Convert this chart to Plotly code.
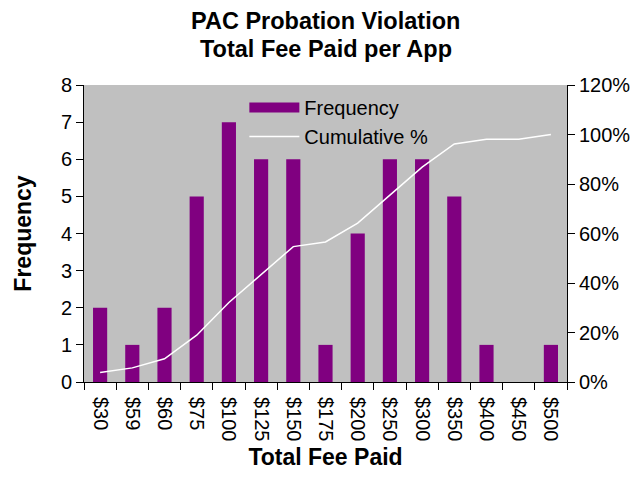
import plotly.graph_objects as go

categories = ["$30", "$59", "$60", "$75", "$100", "$125", "$150", "$175", "$200",
              "$250", "$300", "$350", "$400", "$450", "$500"]
frequency = [2, 1, 2, 5, 7, 6, 6, 1, 4, 6, 6, 5, 1, 0, 1]
cumulative_pct = [3.8, 5.7, 9.4, 18.9, 32.1, 43.4, 54.7, 56.6, 64.2, 75.5, 86.8, 96.2, 98.1, 98.1, 100.0]
left_ticks = [0, 1, 2, 3, 4, 5, 6, 7, 8]
right_ticks = [0, 20, 40, 60, 80, 100, 120]
right_tick_text = ["0%", "20%", "40%", "60%", "80%", "100%", "120%"]
title_lines = ["PAC Probation Violation", "Total Fee Paid per App"]

FONT = "Liberation Sans, Arial, sans-serif"
PURPLE = "#800080"

fig = go.Figure()
fig.add_trace(go.Bar(x=categories, y=frequency, name="Frequency", showlegend=False,
                     marker=dict(color=PURPLE, line=dict(width=0))))
# legend proxy giving the wide rectangular swatch of the original legend
fig.add_trace(go.Scatter(x=[None], y=[None], name="Frequency", mode="lines",
                         line=dict(color=PURPLE, width=12), hoverinfo="skip"))
fig.add_trace(go.Scatter(x=categories, y=cumulative_pct, name="Cumulative %", yaxis="y2",
                         mode="lines", line=dict(color="white", width=1.5)))

fig.update_layout(
    width=642, height=478,
    margin=dict(l=84, r=73, t=85, b=95),
    paper_bgcolor="white", plot_bgcolor="#C0C0C0",
    font=dict(family=FONT, size=20, color="black"),
    bargap=0.56,
    showlegend=True,
    legend=dict(x=0.332, y=0.99, xanchor="left", yanchor="top", bgcolor="rgba(0,0,0,0)",
                font=dict(size=20), itemwidth=50, tracegroupgap=0),
    xaxis=dict(type="category", tickangle=90, tickson="boundaries",
               ticks="outside", ticklen=7, tickcolor="black", ticklabelstandoff=10,
               showline=True, linecolor="black", linewidth=1, showgrid=False,
               title=dict(text="<b>Total Fee Paid</b>", font=dict(size=23), standoff=8),
               tickfont=dict(size=20)),
    yaxis=dict(range=[0, 8], tickvals=left_ticks, ticks="outside", ticklen=7, tickcolor="black",
               showline=True, linecolor="black", linewidth=1, showgrid=False, zeroline=False,
               title=dict(text="<b>Frequency</b>", font=dict(size=23), standoff=22),
               tickfont=dict(size=20)),
    yaxis2=dict(range=[0, 120], tickvals=right_ticks, ticktext=right_tick_text,
                overlaying="y", side="right",
                ticks="outside", ticklen=7, tickcolor="black",
                showline=True, linecolor="black", linewidth=1, showgrid=False, zeroline=False,
                tickfont=dict(size=20)),
    annotations=[
        dict(text="<b>%s</b>" % title_lines[0], xref="paper", yref="paper", x=0.5, y=1.216,
             xanchor="center", yanchor="middle", showarrow=False, font=dict(size=23.5)),
        dict(text="<b>%s</b>" % title_lines[1], xref="paper", yref="paper", x=0.5, y=1.122,
             xanchor="center", yanchor="middle", showarrow=False, font=dict(size=23.5)),
    ],
)

fig.write_html("out.html", config={"displayModeBar": False},
               post_script="document.body.style.margin='0px';")
